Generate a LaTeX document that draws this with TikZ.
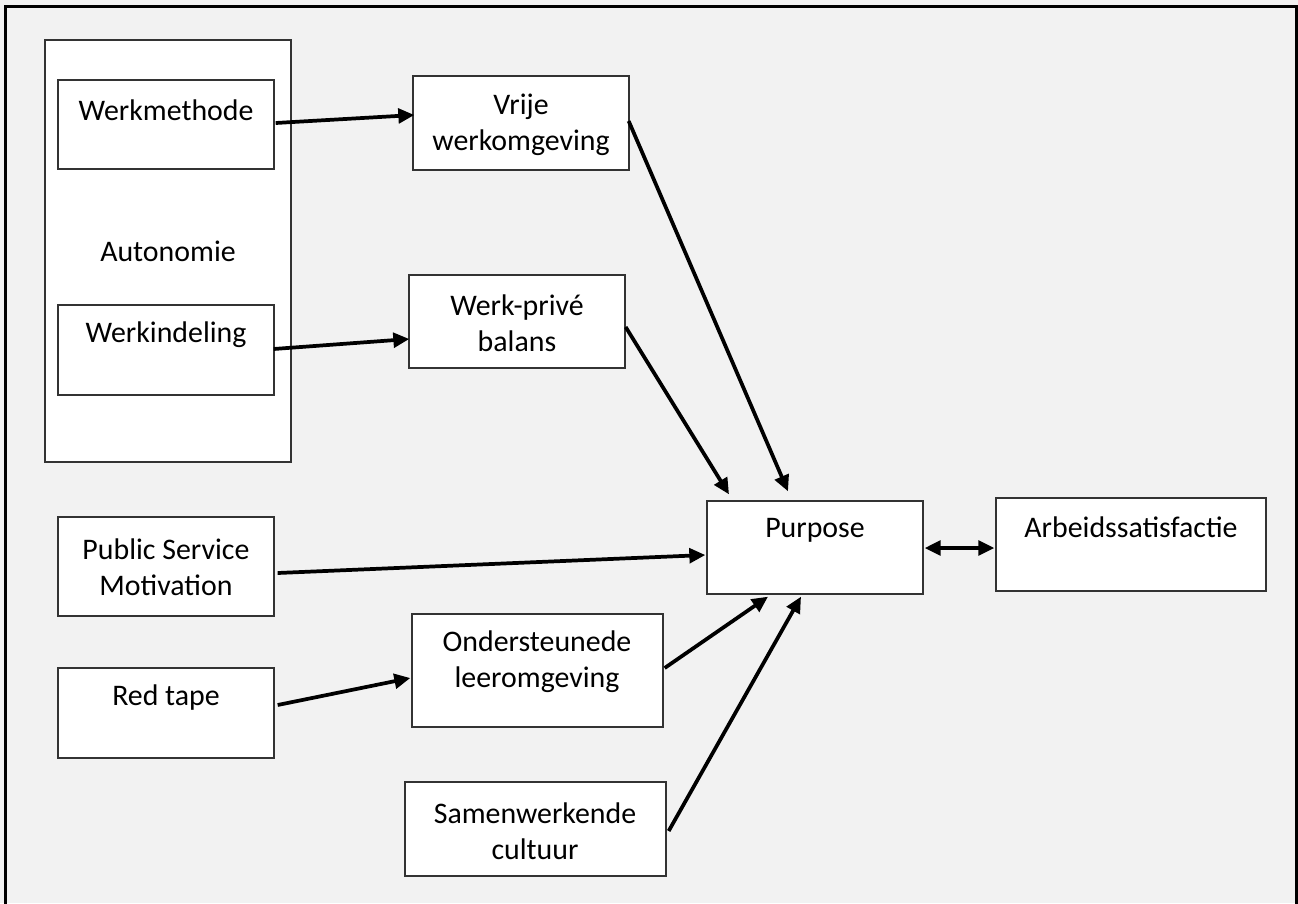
\documentclass[tikz,border=0pt]{standalone}
\usepackage{fontspec}
\setmainfont{Carlito}
\usetikzlibrary{arrows.meta,fit,calc}
\definecolor{bg}{HTML}{F2F2F2}
\begin{document}
\begin{tikzpicture}[x=0.75pt,y=-0.75pt,
  box/.style={draw=black!80,fill=white,line width=1pt,inner sep=0pt,rectangle},
  txt/.style={align=center,inner sep=0pt,font=\fontsize{22.4}{27}\selectfont},
  conn/.style={line width=2.8pt,-{Triangle[length=12pt,width=11pt]}},
  dconn/.style={line width=2.8pt,{Triangle[length=12pt,width=11pt]}-{Triangle[length=12pt,width=11pt]}}]
\useasboundingbox (0,0) rectangle (1298,903);
\clip (0,0) rectangle (1298,903);
\fill[bg] (0,0) rectangle (1298,903);
\draw[line width=2.25pt] (5.5,6) rectangle (1296.5,930);
% boxes
\node[box,fit={(45,40) (291,462)}] (aut) {};
\node[box,fit={(58,80) (274,169)}] (wm) {};
\node[box,fit={(58,305) (274,395)}] (wi) {};
\node[box,fit={(413,76) (629,170)}] (vr) {};
\node[box,fit={(409,275) (625,368)}] (wp) {};
\node[box,fit={(58,517) (274,616)}] (psm) {};
\node[box,fit={(58,668) (274,758)}] (rt) {};
\node[box,fit={(412,614) (663,727)}] (ond) {};
\node[box,fit={(405,782) (666,876)}] (sam) {};
\node[box,fit={(707,501) (923,594)}] (pur) {};
\node[box,fit={(996,498) (1266,591)}] (arb) {};
% texts
\node[txt] (wm-t) at (166,110) {Werkmethode};
\node[txt] (aut-t) at (168,251) {Autonomie};
\node[txt] (wi-t) at (166,335) {Werkindeling};
\node[txt] (vr-t) at (521,125) {Vrije\\werkomgeving};
\node[txt] (wp-t) at (517,323) {Werk-privé\\balans};
\node[txt] (psm-t) at (166,567) {Public Service\\Motivation};
\node[txt] (rt-t) at (166,698) {Red tape};
\node[txt] (ond-t) at (537,662) {Ondersteunede\\leeromgeving};
\node[txt] (sam-t) at (535,831) {Samenwerkende\\cultuur};
\node[txt] (pur-t) at (815,530) {Purpose};
\node[txt] (arb-t) at (1131,527) {Arbeidssatisfactie};
% connectors
\draw[conn] ($(wm.east)+(1,-1.5)$) -- ($(vr.west)+(2,-8)$);
\draw[conn] ($(wi.east)+(-1,-1)$) -- ($(wp.west)+(1,17.5)$);
\draw[conn] ($(vr.east)+(-1,-2)$) -- ($(pur.north)+(-27,-9)$);
\draw[conn] ($(wp.east)+(0,5.5)$) -- ($(pur.north)+(-86,-6)$);
\draw[conn] ($(psm.east)+(3,6.5)$) -- ($(pur.west)+(-1,7.5)$);
\draw[conn] ($(rt.east)+(3,-8)$) -- ($(ond.west)+(-1,7.5)$);
\draw[conn] ($(ond.east)+(1,-2.5)$) -- ($(pur.south)+(-47,2)$);
\draw[conn] ($(sam.east)+(2,2)$) -- ($(pur.south)+(-14,2)$);
\draw[dconn] ($(pur.east)+(1,0.5)$) -- ($(arb.west)+(-1,3.5)$);
\end{tikzpicture}
\end{document}
